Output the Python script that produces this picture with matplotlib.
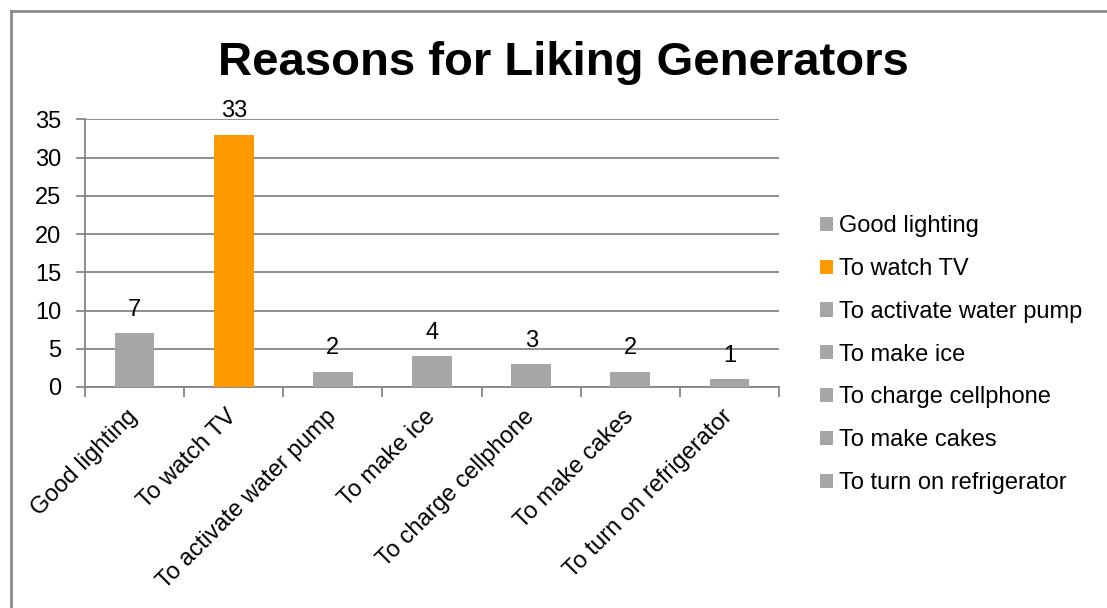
import matplotlib.pyplot as plt
from matplotlib.lines import Line2D
from matplotlib.patches import Patch

plt.rcParams['font.family'] = ['Liberation Sans', 'DejaVu Sans']

reasons = ['Good lighting', 'To watch TV', 'To activate water pump', 'To make ice',
           'To charge cellphone', 'To make cakes', 'To turn on refrigerator']
counts = [7, 33, 2, 4, 3, 2, 1]
bar_colors = ['#A6A6A6', '#FF9900', '#A6A6A6', '#A6A6A6', '#A6A6A6', '#A6A6A6', '#A6A6A6']
yticks = [0, 5, 10, 15, 20, 25, 30, 35]

grid_col = '#868686'

fig = plt.figure(figsize=(11.07, 6.08), dpi=100)
ax = fig.add_axes([0.0768, 0.3635, 0.7037 - 0.0768, 0.8035 - 0.3635])

x = list(range(len(reasons)))
bars = ax.bar(x, counts, width=0.4, color=bar_colors, zorder=3)

ax.bar_label(bars, labels=[str(c) for c in counts], padding=9, fontsize=17, color='black')

ax.set_xlim(-0.5, len(reasons) - 0.5)
ax.set_ylim(0, 35)
ax.set_yticks(yticks)
ax.set_yticklabels([str(t) for t in yticks], fontsize=17)
ax.yaxis.grid(True, color=grid_col, lw=1.3, zorder=0)
ax.tick_params(axis='y', length=0, pad=17)

# category ticks sit on the boundaries, labels on the centres
ax.set_xticks([i - 0.5 for i in range(len(reasons) + 1)])
ax.set_xticklabels([])
ax.tick_params(axis='x', which='major', length=7, color=grid_col, width=1.3)
ax.set_xticks(x, minor=True)
ax.set_xticklabels(reasons, minor=True, rotation=45, ha='right', va='center',
                   rotation_mode='anchor', fontsize=17)
ax.tick_params(axis='x', which='minor', length=0, pad=19)

for side in ['top', 'right']:
    ax.spines[side].set_visible(False)
ax.spines['left'].set_color(grid_col)
ax.spines['bottom'].set_color(grid_col)
ax.spines['left'].set_linewidth(1.3)
ax.spines['bottom'].set_linewidth(1.3)

# short outward ticks on the value axis, drawn as gridline stubs
for t in yticks:
    ax.plot([-0.5 - 8 / 99.2, -0.5], [t, t], color=grid_col, lw=1.3, clip_on=False, zorder=2)

fig.text(0.509, 0.8766, 'Reasons for Liking Generators', fontsize=34, fontweight='bold',
         ha='center', va='baseline')

handles = [Patch(facecolor=c, edgecolor='none') for c in bar_colors]
fig.legend(handles, reasons, loc='center left', bbox_to_anchor=(0.7407, 0.4167),
           frameon=False, fontsize=17, handlelength=0.55, handleheight=0.55,
           handletextpad=0.25, labelspacing=0.88, borderpad=0, borderaxespad=0)

# outer chart frame
fig.add_artist(Line2D([10.5 / 1107, 10.5 / 1107], [0, 1 - 10.5 / 608], color='#8C8C8C', lw=2,
                      transform=fig.transFigure))
fig.add_artist(Line2D([10.5 / 1107, 1], [1 - 10.5 / 608, 1 - 10.5 / 608], color='#8C8C8C', lw=2,
                      transform=fig.transFigure))

fig.savefig('out.png', dpi=100)
